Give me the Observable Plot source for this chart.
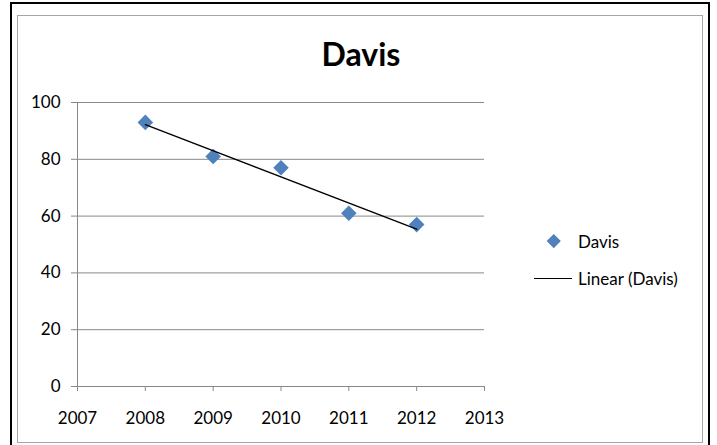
<!DOCTYPE html>
<html><head><meta charset="utf-8">
<script src="https://cdn.jsdelivr.net/npm/d3@7"></script>
<script src="https://cdn.jsdelivr.net/npm/@observablehq/plot@0.6"></script>
<style>
body{margin:0;background:#fff;font-family:Lato,sans-serif;}
#wrap{position:relative;width:717px;height:445px;overflow:hidden;}
#outer{position:absolute;left:10px;top:2px;width:696px;height:470px;border:2px solid #000;}
#inner{position:absolute;left:17px;top:15px;width:684px;height:426px;border:1px solid #a6a6a6;}
#title{position:absolute;left:0;width:722px;top:38px;line-height:32px;text-align:center;font-weight:bold;font-size:32px;color:#000;}
#chart{position:absolute;left:0;top:0;}
.leg{position:absolute;left:534px;width:180px;height:24px;display:flex;align-items:center;font-size:17px;color:#000;}
.dia{width:9.5px;height:9.5px;background:#4f81bd;transform:rotate(45deg);margin-left:15.25px;margin-right:19.25px;}
.ln{width:38px;height:0;border-top:1.5px solid #000;margin-right:6px;}
</style></head>
<body>
<div id="wrap">
  <div id="outer"></div>
  <div id="inner"></div>
  <div id="chart"></div>
  <div id="title"></div>
  <div class="leg" id="leg1" style="top:229px"><div class="dia"></div><span id="l1"></span></div>
  <div class="leg" id="leg2" style="top:266px"><div class="ln"></div><span id="l2"></span></div>
</div>
<script>
const titleText = "Davis";
const seriesName = "Davis";
const trendName = "Linear (Davis)";
const years = [2008, 2009, 2010, 2011, 2012];
const values = [93, 81, 77, 61, 57];
const xTicks = [2007, 2008, 2009, 2010, 2011, 2012, 2013];
const yTicks = [0, 20, 40, 60, 80, 100];

const data = years.map((x, i) => ({year: x, value: values[i]}));

document.getElementById("title").textContent = titleText;
document.getElementById("l1").textContent = seriesName;
document.getElementById("l2").textContent = trendName;

const chart = Plot.plot({
  width: 717,
  height: 445,
  marginLeft: 77,
  marginRight: 233,
  marginTop: 102,
  marginBottom: 59,
  x: {domain: [xTicks[0], xTicks[xTicks.length - 1]]},
  y: {domain: [yTicks[0], yTicks[yTicks.length - 1]]},
  style: {background: "transparent", fontFamily: "Lato, sans-serif", fontSize: "17px", color: "#000"},
  marks: [
    Plot.gridY(yTicks, {stroke: "#888", strokeOpacity: 1, strokeWidth: 1}),
    Plot.ruleX([xTicks[0]], {stroke: "#888", strokeWidth: 1}),
    Plot.axisY(yTicks, {tickSize: 6, tickPadding: 11, stroke: "#888", fill: "#000", label: null}),
    Plot.axisX(xTicks, {tickSize: 5, tickPadding: 20, stroke: "#888", fill: "#000", label: null, tickFormat: d => String(d)}),
    Plot.dot(data, {x: "year", y: "value", symbol: "diamond2", r: 7, fill: "#4f81bd", stroke: "none"}),
    Plot.linearRegressionY(data, {x: "year", y: "value", ci: 0, stroke: "#000", strokeWidth: 1.5})
  ]
});
document.getElementById("chart").appendChild(chart);
</script>
</body></html>
